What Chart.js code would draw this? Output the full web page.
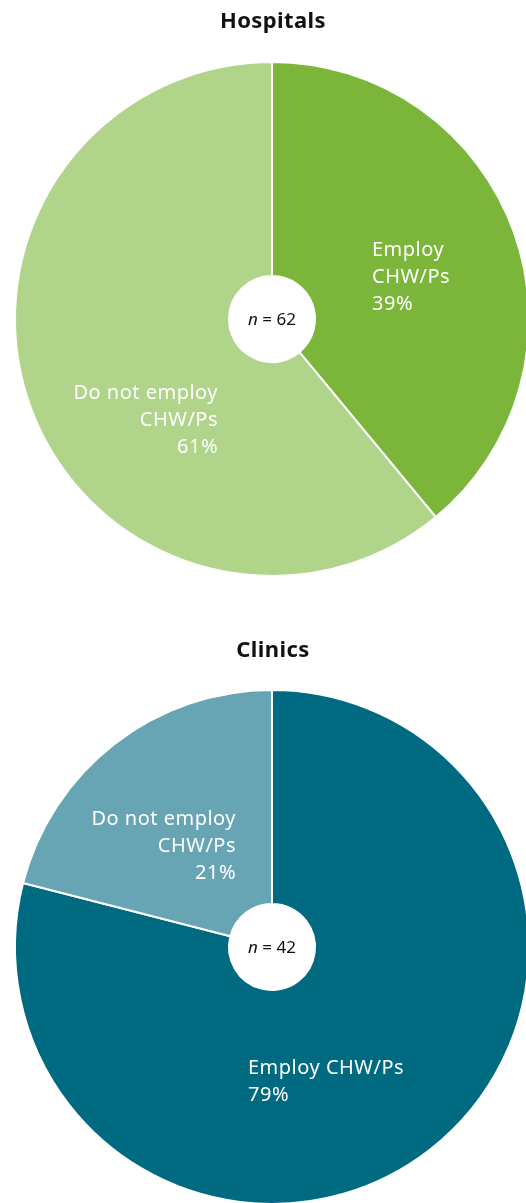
<!DOCTYPE html>
<html>
<head>
<meta charset="utf-8">
<script src="https://cdn.jsdelivr.net/npm/chart.js@4.4.1/dist/chart.umd.min.js"></script>
<style>
    html, body { margin: 0; padding: 0; background: #fff; overflow: hidden; width: 526px; height: 1203px; }
    .pie-box { position: absolute; left: 0; }
    #hospitals-box { top: 0; }
    #clinics-box { top: 600px; }
</style>
</head>
<body>
<div class="pie-box" id="hospitals-box"><canvas id="hospitalsChart" width="544" height="600"></canvas></div>
<div class="pie-box" id="clinics-box"><canvas id="clinicsChart" width="544" height="630"></canvas></div>
<script>
const categories = ["Employ CHW/Ps", "Do not employ CHW/Ps"];
const hospitalValues = [39, 61];
const clinicValues = [79, 21];
const hospitalN = 62;
const clinicN = 42;

const hospitalColors = ["#7bb63a", "#b1d48b"];
const clinicColors = ["#006a80", "#67a5b4"];

const fontFamily = "'Noto Sans', 'Open Sans', sans-serif";

// title, center "n = ..." bubble text and the slice captions
const pieText = {
    id: "pieText",
    afterDraw(chart, args, opts) {
        const ctx = chart.ctx;
        const arc = chart.getDatasetMeta(0).data[0];
        const cx = arc.x, cy = arc.y;
        const values = chart.data.datasets[0].data;

        ctx.save();
        ctx.fillStyle = "#111";
        ctx.textAlign = "center";
        ctx.textBaseline = "alphabetic";
        ctx.letterSpacing = "0.4px";
        ctx.font = "bold 22px " + fontFamily;
        ctx.fillText(opts.title, cx + 1, opts.titleY);

        // n = xx, with an italic n
        ctx.letterSpacing = "0px";
        ctx.font = "italic 17px " + fontFamily;
        const nW = ctx.measureText("n").width;
        ctx.font = "17px " + fontFamily;
        const rest = " = " + opts.n;
        const restW = ctx.measureText(rest).width;
        const startX = cx - (nW + restW) / 2;
        ctx.textAlign = "left";
        ctx.font = "italic 17px " + fontFamily;
        ctx.fillText("n", startX, cy + 6);
        ctx.font = "17px " + fontFamily;
        ctx.fillText(rest, startX + nW, cy + 6);

        ctx.fillStyle = "#fff";
        ctx.letterSpacing = "0.5px";
        ctx.font = "20px " + fontFamily;
        opts.captions.forEach(function(cap, i){
            const lines = cap.lines.concat([values[i] + "%"]);
            ctx.textAlign = cap.align;
            lines.forEach(function(line, k){
                ctx.fillText(line, cx + cap.dx, cy + cap.dy + k * 27);
            });
        });
        ctx.restore();
    }
};

function makePie(canvasId, values, colors, opts)
{
    const ctx = document.getElementById(canvasId).getContext("2d");
    return new Chart(ctx, {
        type: "doughnut",
        data: {
            labels: categories,
            datasets: [{
                data: values,
                backgroundColor: colors,
                borderColor: "#fff",
                borderWidth: 2
            }]
        },
        options: {
            responsive: false,
            animation: false,
            cutout: 43,
            layout: { padding: opts.padding },
            plugins: {
                legend: { display: false },
                tooltip: { enabled: false },
                pieText: opts.text
            }
        },
        plugins: [pieText]
    });
}

makePie("hospitalsChart", hospitalValues, hospitalColors, {
    padding: { top: 61, left: 14, right: 14, bottom: 23 },
    text: {
        title: "Hospitals",
        titleY: 28,
        n: hospitalN,
        captions: [
            { lines: ["Employ", "CHW/Ps"], align: "left", dx: 100, dy: -63 },
            { lines: ["Do not employ", "CHW/Ps"], align: "right", dx: -54, dy: 80 }
        ]
    }
});

makePie("clinicsChart", clinicValues, clinicColors, {
    padding: { top: 89, left: 14, right: 14, bottom: 25 },
    text: {
        title: "Clinics",
        titleY: 57,
        n: clinicN,
        captions: [
            { lines: ["Employ CHW/Ps"], align: "left", dx: -24, dy: 127 },
            { lines: ["Do not employ", "CHW/Ps"], align: "right", dx: -36, dy: -122 }
        ]
    }
});
</script>
</body>
</html>
